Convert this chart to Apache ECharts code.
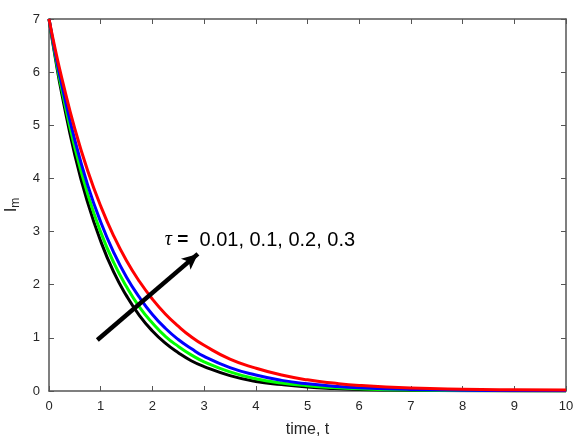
<!DOCTYPE html>
<html>
<head>
<meta charset="utf-8">
<script src="https://cdn.jsdelivr.net/npm/echarts@6/dist/echarts.min.js"></script>
<style>html,body{margin:0;padding:0;background:#fff}#c{width:585px;height:441px}</style>
</head>
<body>
<div id="c"></div>
<script>
var tVals  = [0, 0.125, 0.25, 0.5, 0.75, 1, 1.25, 1.5, 1.75, 2, 2.25, 2.5, 2.75, 3, 3.5, 4, 4.5, 5, 5.5, 6, 7, 8, 9, 10];
var tau001 = [7, 6.25, 5.58, 4.44, 3.54, 2.82, 2.24, 1.79, 1.42, 1.13, 0.90, 0.72, 0.57, 0.46, 0.29, 0.18, 0.12, 0.074, 0.047, 0.030, 0.012, 0.005, 0.002, 0.001];
var tau01  = [7, 6.29, 5.66, 4.58, 3.70, 2.99, 2.42, 1.96, 1.58, 1.28, 1.03, 0.84, 0.68, 0.55, 0.36, 0.23, 0.15, 0.10, 0.065, 0.043, 0.018, 0.008, 0.004, 0.002];
var tau02  = [7, 6.34, 5.75, 4.72, 3.87, 3.18, 2.61, 2.14, 1.76, 1.44, 1.18, 0.97, 0.80, 0.65, 0.44, 0.30, 0.20, 0.135, 0.091, 0.061, 0.030, 0.016, 0.009, 0.006];
var tau03  = [7, 6.41, 5.88, 4.93, 4.14, 3.48, 2.92, 2.45, 2.06, 1.73, 1.45, 1.22, 1.02, 0.86, 0.60, 0.43, 0.30, 0.21, 0.149, 0.105, 0.055, 0.032, 0.022, 0.018];
var xTicks = [0, 1, 2, 3, 4, 5, 6, 7, 8, 9, 10];
var yTicks = [0, 1, 2, 3, 4, 5, 6, 7];
var arrowFrom = [0.935, 0.96];
var arrowTo = [2.88, 2.58];
var labelAt = [2.24, 2.84];

function pairs(ys){ return tVals.map(function(t,i){ return [t, ys[i]]; }); }

var axisCol = '#555555';
var labelCol = '#262626';
var font = 'Liberation Sans, Arial, sans-serif';

function mkSeries(name, ys, color, w){
  return { name:name, type:'line', data:pairs(ys), smooth:0.5, showSymbol:false, symbol:'none',
    lineStyle:{color:color, width:w}, itemStyle:{color:color}, z:2 };
}

var s1 = mkSeries('0.01', tau001, '#000000', 3);
var s2 = mkSeries('0.1', tau01, '#00ff00', 3);
var s3 = mkSeries('0.2', tau02, '#0000ff', 3);
var s4 = mkSeries('0.3', tau03, '#ff0000', 3);

s4.markLine = {
  silent:true, animation:false, symbol:['none','arrow'], symbolSize:[11,16],
  lineStyle:{color:'#000', width:4.5, type:'solid'}, label:{show:false},
  data:[[{coord:arrowFrom},{coord:arrowTo}]]
};
s4.markPoint = {
  silent:true, animation:false, symbol:'circle', symbolSize:0,
  data:[{coord:labelAt, itemStyle:{color:'transparent'},
    label:{show:true, position:'right', distance:0,
      formatter:'{t|τ}{e| =}{n|  0.01, 0.1, 0.2, 0.3}',
      rich:{
        t:{fontFamily:'Liberation Serif, serif', fontStyle:'italic', fontSize:20, color:'#000'},
        e:{fontFamily:font, fontWeight:'bold', fontSize:19, color:'#000'},
        n:{fontFamily:font, fontSize:20, color:'#000'}
      }}}]
};

var chart = echarts.init(document.getElementById('c'), null, {renderer:'canvas'});
chart.setOption({
  animation:false,
  backgroundColor:'#fff',
  grid:{left:49, right:19, top:19, bottom:50, containLabel:false, outerBoundsMode:'none'},
  xAxis:[{
    type:'value', min:xTicks[0], max:xTicks[xTicks.length-1], interval:1,
    name:'time, t', nameLocation:'middle', nameGap:31,
    nameTextStyle:{fontFamily:font, fontSize:16, color:labelCol},
    axisLine:{show:true, onZero:false, lineStyle:{color:axisCol, width:1.5}},
    axisTick:{show:true, inside:true, length:5, lineStyle:{color:axisCol}},
    axisLabel:{fontFamily:font, fontSize:13, color:labelCol, margin:9},
    splitLine:{show:false}
  },{
    type:'value', position:'top', min:xTicks[0], max:xTicks[xTicks.length-1], interval:1,
    axisLine:{show:true, onZero:false, lineStyle:{color:axisCol, width:1.5}},
    axisTick:{show:true, inside:true, length:5, lineStyle:{color:axisCol}},
    axisLabel:{show:false}, splitLine:{show:false}
  }],
  yAxis:[{
    type:'value', min:yTicks[0], max:yTicks[yTicks.length-1], interval:1,
    name:'{a|I}{b|m}', nameLocation:'middle', nameGap:27, nameRotate:90,
    nameTextStyle:{rich:{
      a:{fontFamily:font, fontSize:17, color:labelCol},
      b:{fontFamily:font, fontSize:12, color:labelCol, padding:[9,0,0,0]}
    }},
    axisLine:{show:true, onZero:false, lineStyle:{color:axisCol, width:1.5}},
    axisTick:{show:true, inside:true, length:5, lineStyle:{color:axisCol}},
    axisLabel:{fontFamily:font, fontSize:13, color:labelCol, margin:9},
    splitLine:{show:false}
  },{
    type:'value', position:'right', min:yTicks[0], max:yTicks[yTicks.length-1], interval:1,
    axisLine:{show:true, onZero:false, lineStyle:{color:axisCol, width:1.5}},
    axisTick:{show:true, inside:true, length:5, lineStyle:{color:axisCol}},
    axisLabel:{show:false}, splitLine:{show:false}
  }],
  series:[s1, s2, s3, s4]
});
</script>
</body>
</html>
